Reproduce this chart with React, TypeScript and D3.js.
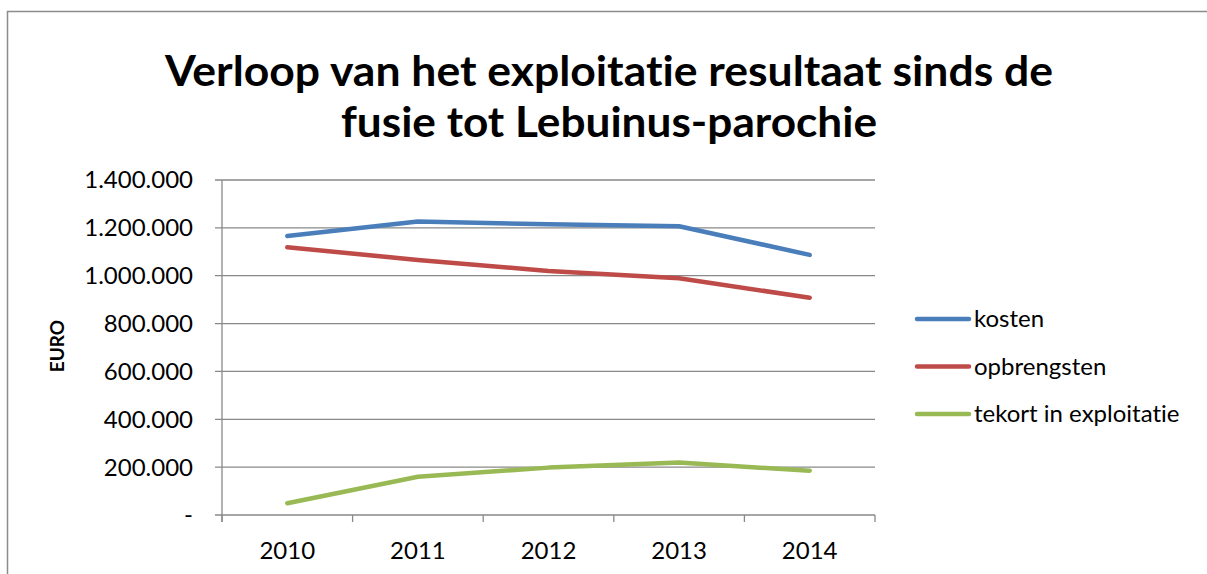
import React from "react";
import * as d3 from "d3";

const years = ["2010", "2011", "2012", "2013", "2014"];
const kosten = [1166000, 1227000, 1215000, 1207000, 1087000];
const opbrengsten = [1119000, 1066000, 1020000, 989000, 908000];
const tekort = [49000, 160000, 198000, 219000, 185000];
const seriesNames = ["kosten", "opbrengsten", "tekort in exploitatie"];
const seriesColors = ["#4A7EBB", "#BE4B48", "#98B954"];
const yTicks = [0, 200000, 400000, 600000, 800000, 1000000, 1200000, 1400000];
const titleLines = ["Verloop van het exploitatie resultaat sinds de", "fusie tot Lebuinus-parochie"];

const W = 1207;
const H = 574;
const plot = { left: 222, right: 875, top: 180, bottom: 515 };
const FONT = "Lato, 'Open Sans', sans-serif";
const noLig = { fontVariantLigatures: "none" as const, fontFeatureSettings: "'liga' 0, 'clig' 0" };

export default function App() {
  const x = d3.scaleBand<string>().domain(years).range([plot.left, plot.right]).padding(0);
  const y = d3.scaleLinear().domain([0, 1400000]).range([plot.bottom, plot.top]);
  const fmt = (v: number) => (v === 0 ? "-" : d3.format(",")(v).replace(/,/g, "."));
  const line = d3
    .line<number>()
    .x((_, i) => (x(years[i]) as number) + x.bandwidth() / 2)
    .y((d) => y(d));
  const data = [kosten, opbrengsten, tekort];
  const boundaries = [...years.map((yr) => x(yr) as number), plot.right];

  return (
    <div style={{ position: "absolute", left: 0, top: 0 }}>
      <svg width={W} height={H} style={{ display: "block", background: "#fff", ...noLig }}>
        <rect x={7.5} y={11.5} width={W + 10} height={H + 10} fill="#fff" stroke="#8c8c8c" strokeWidth={1.5} />
        {titleLines.map((t, i) => (
          <text
            key={i}
            x={609}
            y={86 + i * 51}
            textAnchor="middle"
            fontFamily={FONT}
            fontWeight={700}
            fontSize={42}
            fill="#000"
            textLength={i === 0 ? 888 : 536}
            lengthAdjust="spacingAndGlyphs"
            style={noLig}
          >
            {t}
          </text>
        ))}
        {yTicks.map((t) => (
          <g key={t}>
            <line x1={plot.left - 7} x2={plot.right} y1={y(t)} y2={y(t)} stroke="#898989" strokeWidth={1.3} />
            <text x={193} y={y(t)} dy="0.35em" textAnchor="end" fontFamily={FONT} fontSize={24} fill="#000">
              {fmt(t)}
            </text>
          </g>
        ))}
        <line x1={plot.left} x2={plot.left} y1={plot.top} y2={plot.bottom + 7} stroke="#898989" strokeWidth={1.3} />
        {boundaries.map((b, i) => (
          <line key={i} x1={b} x2={b} y1={plot.bottom} y2={plot.bottom + 7} stroke="#898989" strokeWidth={1.3} />
        ))}
        {years.map((yr) => (
          <text
            key={yr}
            x={(x(yr) as number) + x.bandwidth() / 2}
            y={559}
            textAnchor="middle"
            fontFamily={FONT}
            fontSize={24}
            fill="#000"
          >
            {yr}
          </text>
        ))}
        <text
          transform={`translate(64, 346) rotate(-90)`}
          textAnchor="middle"
          fontFamily={FONT}
          fontWeight={700}
          fontSize={19}
          fill="#000"
        >
          EURO
        </text>
        {data.map((d, i) => (
          <path
            key={i}
            d={line(d) as string}
            fill="none"
            stroke={seriesColors[i]}
            strokeWidth={4.5}
            strokeLinecap="round"
            strokeLinejoin="round"
          />
        ))}
        {seriesNames.map((n, i) => (
          <g key={n}>
            <line
              x1={917}
              x2={969}
              y1={319 + i * 47.5}
              y2={319 + i * 47.5}
              stroke={seriesColors[i]}
              strokeWidth={4.5}
              strokeLinecap="round"
            />
            <text x={974} y={319 + i * 47.5} dy="0.35em" fontFamily={FONT} fontSize={24} fill="#000" style={noLig}>
              {n}
            </text>
          </g>
        ))}
      </svg>
    </div>
  );
}
